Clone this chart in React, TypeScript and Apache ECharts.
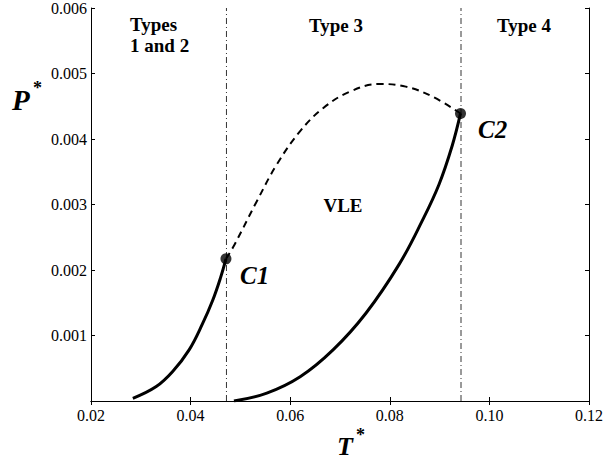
import React, { useEffect, useRef } from "react";
import * as echarts from "echarts";

const xTicks = [0.02, 0.04, 0.06, 0.08, 0.1, 0.12];
const yTicks = [0.001, 0.002, 0.003, 0.004, 0.005, 0.006];

const leftSolid: [number, number][] = [
  [0.0284, 0.00004], [0.0331, 0.00022], [0.0364, 0.00045], [0.0397, 0.00078],
  [0.0424, 0.00118], [0.0444, 0.00153], [0.046, 0.00188], [0.0471, 0.00217],
];
const dashedCurve: [number, number][] = [
  [0.0471, 0.00217], [0.0487, 0.00237], [0.0533, 0.00305], [0.0573, 0.00361],
  [0.062, 0.00412], [0.0666, 0.00447], [0.0719, 0.00472], [0.0779, 0.00484],
  [0.0832, 0.0048], [0.0885, 0.00465], [0.0942, 0.00439],
];
const rightSolid: [number, number][] = [
  [0.0487, 0.0], [0.0553, 0.00012], [0.062, 0.00037], [0.0686, 0.00078],
  [0.0752, 0.00134], [0.0819, 0.00209], [0.0865, 0.00275], [0.0899, 0.00331],
  [0.0925, 0.00389], [0.0942, 0.00439],
];
const criticalPoints: [number, number][] = [[0.0471, 0.00217], [0.0942, 0.00439]];
const boundaries = [0.0472, 0.0943];

const SERIF = "'Liberation Serif', 'Times New Roman', serif";

export default function App() {
  const ref = useRef<HTMLDivElement>(null);
  useEffect(() => {
    if (!ref.current) return;
    const chart = echarts.init(ref.current, null, { renderer: "svg" });
    const axisLine = { show: true, lineStyle: { color: "#000", width: 1 } };
    const axisTick = { show: true, inside: true, length: 4, lineStyle: { color: "#000" } };
    const label = { color: "#000", fontFamily: SERIF, fontSize: 16 };
    chart.setOption({
      animation: false,
      backgroundColor: "#fff",
      grid: { left: 91, top: 6, right: 13, bottom: 60 },
      xAxis: [
        {
          type: "value", min: 0.02, max: 0.12, interval: 0.02, position: "bottom",
          axisLine, axisTick, splitLine: { show: false },
          axisLabel: { ...label, margin: 6, formatter: (v: number) => (xTicks.some(t => Math.abs(t - v) < 1e-9) ? v.toFixed(2) : "") },
        },
        {
          type: "value", min: 0.02, max: 0.12, interval: 0.02, position: "top",
          axisLine, axisTick, splitLine: { show: false }, axisLabel: { show: false },
        },
      ],
      yAxis: [
        {
          type: "value", min: 0, max: 0.006, interval: 0.001, position: "left",
          axisLine, axisTick, splitLine: { show: false },
          axisLabel: { ...label, margin: 4, formatter: (v: number) => (yTicks.some(t => Math.abs(t - v) < 1e-9) ? v.toFixed(3) : "") },
        },
        {
          type: "value", min: 0, max: 0.006, interval: 0.001, position: "right",
          axisLine, axisTick, splitLine: { show: false }, axisLabel: { show: false },
        },
      ],
      series: [
        ...boundaries.map((b) => ({
          type: "line", data: [[b, 0], [b, 0.006]], symbol: "none",
          lineStyle: { color: "#000", width: 0.8, type: [6, 3, 1, 3] },
        })),
        {
          type: "line", data: leftSolid, smooth: 0.4, symbol: "none",
          lineStyle: { color: "#000", width: 3 },
        },
        {
          type: "line", data: rightSolid, smooth: 0.4, symbol: "none",
          lineStyle: { color: "#000", width: 3 },
        },
        {
          type: "line", data: dashedCurve, smooth: 0.4, symbol: "none",
          lineStyle: { color: "#000", width: 2, type: [7, 5] },
        },
        {
          type: "scatter", data: criticalPoints, symbol: "circle", symbolSize: 11,
          itemStyle: { color: "#000" },
        },
      ],
      graphic: [
        { type: "text", x: 130, y: 24, style: { text: "Types", font: `bold 19px ${SERIF}`, fill: "#000", textAlign: "left", textVerticalAlign: "middle" } },
        { type: "text", x: 130, y: 45, style: { text: "1 and 2", font: `bold 19px ${SERIF}`, fill: "#000", textAlign: "left", textVerticalAlign: "middle" } },
        { type: "text", x: 336, y: 25, style: { text: "Type 3", font: `bold 19px ${SERIF}`, fill: "#000", textAlign: "center", textVerticalAlign: "middle" } },
        { type: "text", x: 524, y: 25, style: { text: "Type 4", font: `bold 19px ${SERIF}`, fill: "#000", textAlign: "center", textVerticalAlign: "middle" } },
        { type: "text", x: 343, y: 205, style: { text: "VLE", font: `bold 19px ${SERIF}`, fill: "#000", textAlign: "center", textVerticalAlign: "middle" } },
        { type: "text", x: 240, y: 275, style: { text: "C1", font: `italic bold 25px ${SERIF}`, fill: "#000", textAlign: "left", textVerticalAlign: "middle" } },
        { type: "text", x: 478, y: 129, style: { text: "C2", font: `italic bold 25px ${SERIF}`, fill: "#000", textAlign: "left", textVerticalAlign: "middle" } },
        { type: "text", x: 12, y: 100, style: { text: "P", font: `italic bold 29px ${SERIF}`, fill: "#000", textAlign: "left", textVerticalAlign: "middle" } },
        { type: "text", x: 33, y: 88, style: { text: "*", font: `bold 18px ${SERIF}`, fill: "#000", textAlign: "left", textVerticalAlign: "middle" } },
        { type: "text", x: 337, y: 446, style: { text: "T", font: `italic bold 26px ${SERIF}`, fill: "#000", textAlign: "left", textVerticalAlign: "middle" } },
        { type: "text", x: 356, y: 435, style: { text: "*", font: `bold 18px ${SERIF}`, fill: "#000", textAlign: "left", textVerticalAlign: "middle" } },
      ],
    });
    return () => chart.dispose();
  }, []);
  return <div ref={ref} style={{ width: 606, height: 461, position: "fixed", left: 0, top: 0 }} />;
}
